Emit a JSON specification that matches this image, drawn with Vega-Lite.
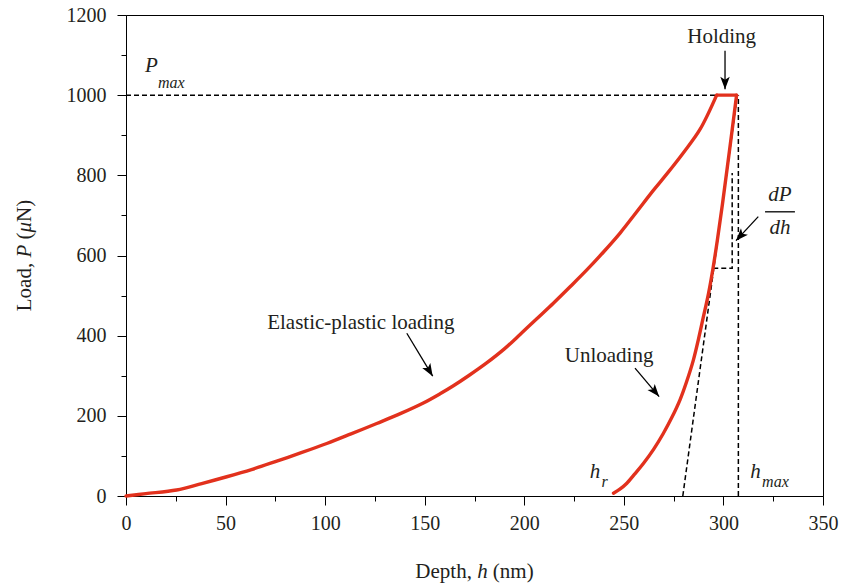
{
  "$schema": "https://vega.github.io/schema/vega-lite/v6.json",
  "width": 697,
  "height": 481,
  "autosize": {"type": "none"},
  "padding": {"left": 126, "top": 15, "right": 22, "bottom": 92},
  "background": "white",
  "config": {
    "font": "Liberation Serif",
    "view": {"stroke": "#000", "strokeWidth": 1},
    "axis": {
      "domainColor": "#000",
      "domainWidth": 1,
      "tickColor": "#000",
      "tickWidth": 1,
      "labelColor": "#231f20",
      "titleColor": "#231f20",
      "labelFont": "Liberation Serif",
      "titleFont": "Liberation Serif",
      "labelFontSize": 20,
      "titleFontSize": 21,
      "titleFontWeight": "normal",
      "grid": false,
      "labelOverlap": false,
      "labelFlush": false
    }
  },
  "datasets": {
    "curve": [
      {"seg": "load", "i": 0, "h": 0, "P": 0},
      {"seg": "load", "i": 1, "h": 10, "P": 6},
      {"seg": "load", "i": 2, "h": 25.4, "P": 15},
      {"seg": "load", "i": 3, "h": 38, "P": 31},
      {"seg": "load", "i": 4, "h": 50.6, "P": 48},
      {"seg": "load", "i": 5, "h": 63, "P": 66},
      {"seg": "load", "i": 6, "h": 75.7, "P": 87},
      {"seg": "load", "i": 7, "h": 88, "P": 108},
      {"seg": "load", "i": 8, "h": 100.8, "P": 131},
      {"seg": "load", "i": 9, "h": 113, "P": 155},
      {"seg": "load", "i": 10, "h": 125.9, "P": 181},
      {"seg": "load", "i": 11, "h": 138, "P": 206},
      {"seg": "load", "i": 12, "h": 149.3, "P": 232},
      {"seg": "load", "i": 13, "h": 157.7, "P": 255},
      {"seg": "load", "i": 14, "h": 164.4, "P": 275},
      {"seg": "load", "i": 15, "h": 172, "P": 300},
      {"seg": "load", "i": 16, "h": 181.1, "P": 332},
      {"seg": "load", "i": 17, "h": 190, "P": 367},
      {"seg": "load", "i": 18, "h": 197.9, "P": 403},
      {"seg": "load", "i": 19, "h": 206, "P": 441},
      {"seg": "load", "i": 20, "h": 214.6, "P": 481},
      {"seg": "load", "i": 21, "h": 223, "P": 522},
      {"seg": "load", "i": 22, "h": 231.4, "P": 564},
      {"seg": "load", "i": 23, "h": 240, "P": 610},
      {"seg": "load", "i": 24, "h": 248.1, "P": 656},
      {"seg": "load", "i": 25, "h": 256, "P": 706},
      {"seg": "load", "i": 26, "h": 264.9, "P": 763},
      {"seg": "load", "i": 27, "h": 272, "P": 806},
      {"seg": "load", "i": 28, "h": 280, "P": 857},
      {"seg": "load", "i": 29, "h": 288.3, "P": 915},
      {"seg": "load", "i": 30, "h": 296.6, "P": 1000},
      {"seg": "hold", "i": 31, "h": 296.6, "P": 1000},
      {"seg": "hold", "i": 32, "h": 306.6, "P": 1000},
      {"seg": "unload", "i": 33, "h": 306.6, "P": 1000},
      {"seg": "unload", "i": 34, "h": 303, "P": 860},
      {"seg": "unload", "i": 35, "h": 299.5, "P": 728},
      {"seg": "unload", "i": 36, "h": 297, "P": 640},
      {"seg": "unload", "i": 37, "h": 294.9, "P": 572},
      {"seg": "unload", "i": 38, "h": 292.5, "P": 505},
      {"seg": "unload", "i": 39, "h": 289.9, "P": 446},
      {"seg": "unload", "i": 40, "h": 287.5, "P": 392},
      {"seg": "unload", "i": 41, "h": 284.9, "P": 339},
      {"seg": "unload", "i": 42, "h": 281.5, "P": 285},
      {"seg": "unload", "i": 43, "h": 278.2, "P": 240},
      {"seg": "unload", "i": 44, "h": 274, "P": 195},
      {"seg": "unload", "i": 45, "h": 269.8, "P": 156},
      {"seg": "unload", "i": 46, "h": 265, "P": 117},
      {"seg": "unload", "i": 47, "h": 259.8, "P": 81},
      {"seg": "unload", "i": 48, "h": 255.5, "P": 55},
      {"seg": "unload", "i": 49, "h": 251.5, "P": 32},
      {"seg": "unload", "i": 50, "h": 248, "P": 17},
      {"seg": "unload", "i": 51, "h": 244.8, "P": 7}
    ],
    "dashes": [
      {"id": "pmax", "o": 0, "h": 0, "P": 1000},
      {"id": "pmax", "o": 1, "h": 296.6, "P": 1000},
      {"id": "tangent", "o": 0, "h": 279.6, "P": 0},
      {"id": "tangent", "o": 1, "h": 307, "P": 1000},
      {"id": "hmax", "o": 0, "h": 307.5, "P": 0},
      {"id": "hmax", "o": 1, "h": 307.5, "P": 1000},
      {"id": "slope", "o": 0, "h": 294.9, "P": 568},
      {"id": "slope", "o": 1, "h": 304.4, "P": 568},
      {"id": "slope", "o": 2, "h": 304.4, "P": 806}
    ]
  },
  "layer": [
    {
      "data": {"name": "dashes"},
      "mark": {"type": "line", "color": "#000", "strokeWidth": 1.5, "strokeDash": [5, 3]},
      "encoding": {
        "x": {
          "field": "h", "type": "quantitative",
          "scale": {"domain": [0, 350], "nice": false, "zero": false},
          "axis": {
            "title": null,
            "values": [0, 25, 50, 75, 100, 125, 150, 175, 200, 225, 250, 275, 300, 325, 350],
            "format": "d",
            "labelExpr": "datum.value % 50 === 0 ? datum.label : ''",
            "tickSize": {"condition": {"test": "datum.value % 50 === 0", "value": 9}, "value": 5},
            "labelPadding": 8
          }
        },
        "y": {
          "field": "P", "type": "quantitative",
          "scale": {"domain": [0, 1200], "nice": false, "zero": false},
          "axis": {
            "title": null,
            "values": [0, 100, 200, 300, 400, 500, 600, 700, 800, 900, 1000, 1100, 1200],
            "format": "d",
            "labelExpr": "datum.value % 200 === 0 ? datum.label : ''",
            "tickSize": {"condition": {"test": "datum.value % 200 === 0", "value": 9}, "value": 5},
            "labelPadding": 11
          }
        },
        "detail": {"field": "id"},
        "order": {"field": "o"}
      }
    },
    {
      "data": {"name": "curve"},
      "mark": {"type": "line", "color": "#e2311d", "strokeWidth": 3.4, "strokeJoin": "round", "strokeCap": "round", "interpolate": "catmull-rom"},
      "encoding": {
        "x": {"field": "h", "type": "quantitative"},
        "y": {"field": "P", "type": "quantitative"},
        "detail": {"field": "seg"},
        "order": {"field": "i"}
      }
    },
    {
      "data": {"values": [
        {"h": 300.8, "P": 1111, "h2": 300.8, "P2": 1015},
        {"h": 141.0, "P": 406, "h2": 154, "P2": 299},
        {"h": 255.6, "P": 319, "h2": 267.7, "P2": 248},
        {"h": 317.5, "P": 697, "h2": 306.3, "P2": 637},
        {"h": 320.9, "P": 709, "h2": 335.9, "P2": 709}
      ]},
      "mark": {"type": "rule", "color": "#000", "strokeWidth": 1.3},
      "encoding": {
        "x": {"field": "h", "type": "quantitative"},
        "y": {"field": "P", "type": "quantitative"},
        "x2": {"field": "h2"},
        "y2": {"field": "P2"}
      }
    },
    {
      "data": {"values": [{"h": 300.8, "P": 1015}]},
      "mark": {"type": "point", "filled": true, "color": "#000", "opacity": 1, "shape": "M0,0L-0.4,1.05L0,0.8L0.4,1.05Z", "size": 560, "angle": 180},
      "encoding": {"x": {"field": "h", "type": "quantitative"}, "y": {"field": "P", "type": "quantitative"}}
    },
    {
      "data": {"values": [{"h": 154, "P": 299}]},
      "mark": {"type": "point", "filled": true, "color": "#000", "opacity": 1, "shape": "M0,0L-0.4,1.05L0,0.8L0.4,1.05Z", "size": 560, "angle": 149},
      "encoding": {"x": {"field": "h", "type": "quantitative"}, "y": {"field": "P", "type": "quantitative"}}
    },
    {
      "data": {"values": [{"h": 267.7, "P": 248}]},
      "mark": {"type": "point", "filled": true, "color": "#000", "opacity": 1, "shape": "M0,0L-0.4,1.05L0,0.8L0.4,1.05Z", "size": 560, "angle": 140},
      "encoding": {"x": {"field": "h", "type": "quantitative"}, "y": {"field": "P", "type": "quantitative"}}
    },
    {
      "data": {"values": [{"h": 306.3, "P": 637}]},
      "mark": {"type": "point", "filled": true, "color": "#000", "opacity": 1, "shape": "M0,0L-0.4,1.05L0,0.8L0.4,1.05Z", "size": 560, "angle": 223},
      "encoding": {"x": {"field": "h", "type": "quantitative"}, "y": {"field": "P", "type": "quantitative"}}
    },
    {
      "data": {"values": [
        {"h": 299.1, "P": 1129, "t": "Holding"},
        {"h": 117.9, "P": 416, "t": "Elastic-plastic loading"},
        {"h": 242.6, "P": 335, "t": "Unloading"}
      ]},
      "mark": {"type": "text", "font": "Liberation Serif", "fontSize": 21, "color": "#231f20", "align": "center", "baseline": "alphabetic"},
      "encoding": {
        "x": {"field": "h", "type": "quantitative"},
        "y": {"field": "P", "type": "quantitative"},
        "text": {"field": "t"}
      }
    },
    {
      "data": {"values": [
        {"h": 12.8, "P": 1059, "t": "P"},
        {"h": 235.5, "P": 45, "t": "h"},
        {"h": 316.1, "P": 45, "t": "h"},
        {"h": 328.4, "P": 735, "t": "dP"},
        {"h": 328.4, "P": 653, "t": "dh"}
      ]},
      "mark": {"type": "text", "font": "Liberation Serif", "fontStyle": "italic", "fontSize": 21, "color": "#231f20", "align": "center", "baseline": "alphabetic"},
      "encoding": {
        "x": {"field": "h", "type": "quantitative"},
        "y": {"field": "P", "type": "quantitative"},
        "text": {"field": "t"}
      }
    },
    {
      "data": {"values": [
        {"h": 22.7, "P": 1017, "t": "max"},
        {"h": 240.3, "P": 23, "t": "r"},
        {"h": 326.1, "P": 23, "t": "max"}
      ]},
      "mark": {"type": "text", "font": "Liberation Serif", "fontStyle": "italic", "fontSize": 16, "color": "#231f20", "align": "center", "baseline": "alphabetic"},
      "encoding": {
        "x": {"field": "h", "type": "quantitative"},
        "y": {"field": "P", "type": "quantitative"},
        "text": {"field": "t"}
      }
    },
    {
      "data": {"values": [
        {"h": 173.7, "P": -204.6, "t": "Depth,"}
      ]},
      "mark": {"type": "text", "font": "Liberation Serif", "fontSize": 21, "color": "#231f20", "align": "right", "baseline": "alphabetic"},
      "encoding": {
        "x": {"field": "h", "type": "quantitative"},
        "y": {"field": "P", "type": "quantitative"},
        "text": {"field": "t"}
      }
    },
    {
      "data": {"values": [
        {"h": 179.0, "P": -204.6, "t": "h"}
      ]},
      "mark": {"type": "text", "font": "Liberation Serif", "fontStyle": "italic", "fontSize": 21, "color": "#231f20", "align": "center", "baseline": "alphabetic"},
      "encoding": {
        "x": {"field": "h", "type": "quantitative"},
        "y": {"field": "P", "type": "quantitative"},
        "text": {"field": "t"}
      }
    },
    {
      "data": {"values": [
        {"h": 184.2, "P": -204.6, "t": "(nm)"}
      ]},
      "mark": {"type": "text", "font": "Liberation Serif", "fontSize": 21, "color": "#231f20", "align": "left", "baseline": "alphabetic"},
      "encoding": {
        "x": {"field": "h", "type": "quantitative"},
        "y": {"field": "P", "type": "quantitative"},
        "text": {"field": "t"}
      }
    },
    {
      "data": {"values": [
        {"h": -50.7, "P": 521.4, "t": "Load,"},
        {"h": -50.7, "P": 648.6, "t": "("},
        {"h": -50.7, "P": 711.3, "t": "N)"}
      ]},
      "mark": {"type": "text", "font": "Liberation Serif", "fontSize": 21, "color": "#231f20", "align": "center", "baseline": "middle", "angle": 270},
      "encoding": {
        "x": {"field": "h", "type": "quantitative"},
        "y": {"field": "P", "type": "quantitative"},
        "text": {"field": "t"}
      }
    },
    {
      "data": {"values": [
        {"h": -50.7, "P": 610.9, "t": "P"},
        {"h": -50.7, "P": 670.5, "t": "μ"}
      ]},
      "mark": {"type": "text", "font": "Liberation Serif", "fontStyle": "italic", "fontSize": 21, "color": "#231f20", "align": "center", "baseline": "middle", "angle": 270},
      "encoding": {
        "x": {"field": "h", "type": "quantitative"},
        "y": {"field": "P", "type": "quantitative"},
        "text": {"field": "t"}
      }
    }
  ]
}
